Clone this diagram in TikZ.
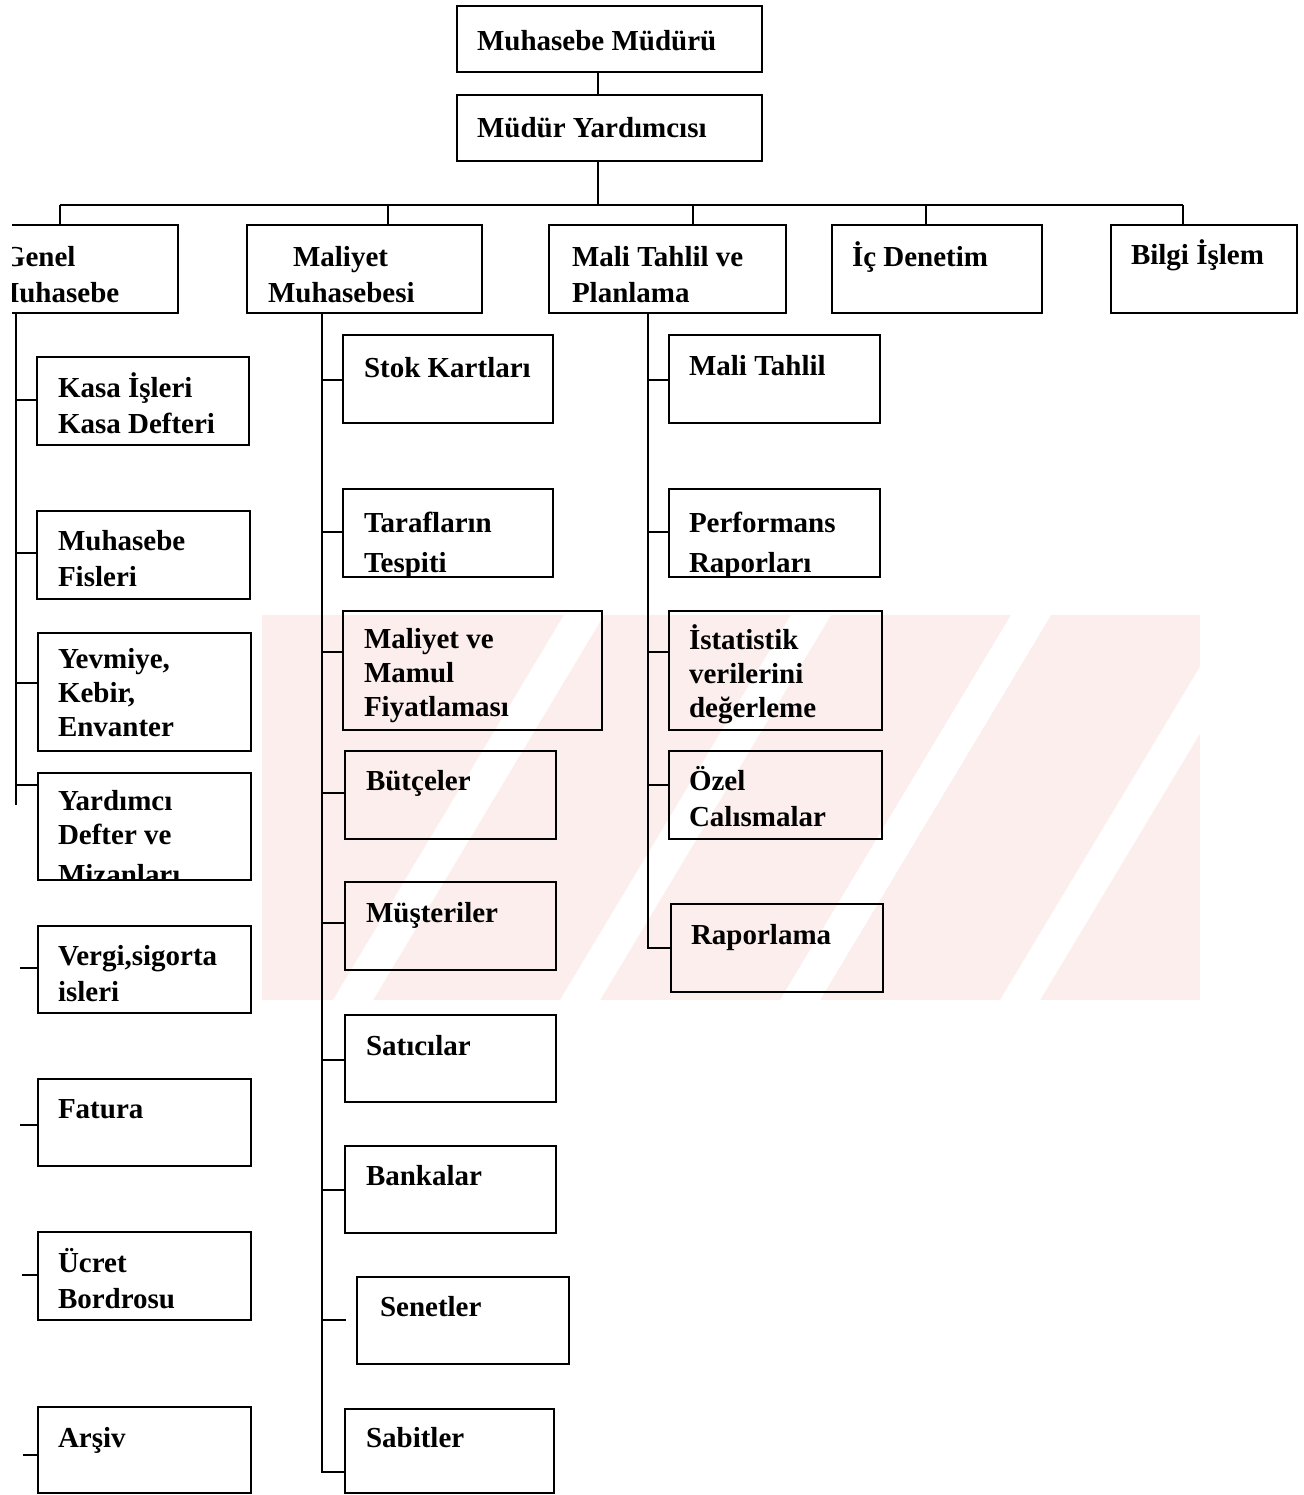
\documentclass[tikz,border=0pt]{standalone}
\usepackage{fontspec}
\setmainfont{Liberation Serif}
\usetikzlibrary{fit}
\definecolor{wmpink}{RGB}{253,238,238}
\tikzset{
  bx/.style={draw, line width=1.2pt, inner sep=0pt},
  tx/.style={inner sep=0pt, outer sep=0pt, anchor=north west, align=left},
  ln/.style={line width=1.2pt},
  wm/.style={fill=wmpink, draw=none},
  wmgap/.style={fill=white, draw=none},
}
\newcommand{\ob}[9][18]{%
  \node[bx, fit={(#3,#4) (#5,#6)}] (#2) {};
  \begin{scope}
    \clip (#3,#4) rectangle (#5,#6);
    \node[tx, font={\bfseries\fontsize{14.5}{#1}\selectfont}] (#2t) at (#7,{#8-1.4*#1}) {\strut #9};
  \end{scope}
}
\newcommand{\stb}[3]{%
  \coordinate (s) at (#1,#2);
  \draw[ln] (s) -- (s -| #3.west);
}
\begin{document}
\begin{tikzpicture}[x=0.5pt,y=-0.5pt]
\useasboundingbox (0,0) rectangle (1303,1495);
\clip (12,0) rectangle (1303,1495);
% faint watermark behind the chart
\fill[wm] (262,615) rectangle (1200,1000);
\foreach \xb in {333,560,780,1000}
  \fill[wmgap] (\xb,1000) -- ++(40,0) -- ++(231,-385) -- ++(-40,0) -- cycle;
\fill[white] (1200,615) rectangle (1303,1000);
% top
\ob{mm}{457}{6}{762}{72}{477}{50}{Muhasebe Müdürü}
\ob{my}{457}{95}{762}{161}{477}{137}{Müdür Yardımcısı}
% level 2
\ob{genel}{-20}{225}{178}{313}{-8}{266}{\hspace*{5.5pt}Genel\\Muhasebe}
\ob{maliyet}{247}{225}{482}{313}{268}{266}{\hspace*{12.5pt}Maliyet\\Muhasebesi}
\ob{mali}{549}{225}{786}{313}{572}{266}{Mali Tahlil ve\\Planlama}
\ob{ic}{832}{225}{1042}{313}{852}{266}{İç Denetim}
\ob{bilgi}{1111}{225}{1297}{313}{1131}{264}{Bilgi İşlem}
% Genel Muhasebe children
\ob{kasa}{37}{357}{249}{445}{58}{397}{Kasa İşleri\\Kasa Defteri}
\ob{fis}{37}{511}{250}{599}{58}{550}{Muhasebe\\Fisleri}
\ob[17]{yev}{38}{633}{251}{751}{58}{668}{Yevmiye,\\Kebir,\\Envanter}
\ob[17]{yard}{38}{773}{251}{880}{58}{810}{Yardımcı\\Defter ve\\[3pt]Mizanları}
\ob{verg}{38}{926}{251}{1013}{58}{965}{Vergi,sigorta\\isleri}
\ob{fat}{38}{1079}{251}{1166}{58}{1118}{Fatura}
\ob{ucr}{38}{1232}{251}{1320}{58}{1272}{Ücret\\Bordrosu}
\ob{ars}{38}{1407}{251}{1493}{58}{1447}{Arşiv}
% Maliyet children
\ob{stok}{343}{335}{553}{423}{364}{377}{Stok Kartları}
\ob{tar}{343}{489}{553}{577}{364}{532}{Tarafların\\[2pt]Tespiti}
\ob[17]{mam}{343}{611}{602}{730}{364}{648}{Maliyet ve\\Mamul\\Fiyatlaması}
\ob{but}{345}{751}{556}{839}{366}{790}{Bütçeler}
\ob{mus}{345}{882}{556}{970}{366}{922}{Müşteriler}
\ob{sat}{345}{1015}{556}{1102}{366}{1055}{Satıcılar}
\ob{ban}{345}{1146}{556}{1233}{366}{1185}{Bankalar}
\ob{sen}{357}{1277}{569}{1364}{380}{1316}{Senetler}
\ob{sab}{345}{1409}{554}{1493}{366}{1447}{Sabitler}
% Mali Tahlil children
\ob{mt}{669}{335}{880}{423}{689}{375}{Mali Tahlil}
\ob{perf}{669}{489}{880}{577}{689}{532}{Performans\\[2pt]Raporları}
\ob[17]{ist}{669}{611}{882}{730}{689}{648}{İstatistik\\verilerini\\değerleme}
\ob{ozel}{669}{751}{882}{839}{689}{790}{Özel\\Calısmalar}
\ob{rap}{671}{904}{883}{992}{691}{944}{Raporlama}
% top connectors
\coordinate (c1) at (598,0);
\draw[ln] (c1 |- mm.south) -- (c1 |- my.north);
\coordinate (bar) at (598,205);
\draw[ln] (c1 |- my.south) -- (bar);
\coordinate (d1) at (60,205);
\coordinate (d2) at (388,205);
\coordinate (d3) at (693,205);
\coordinate (d4) at (926,205);
\coordinate (d5) at (1183,205);
\draw[ln] (d1) -- (d5);
\draw[ln] (d1) -- (d1 |- genel.north);
\draw[ln] (d2) -- (d2 |- maliyet.north);
\draw[ln] (d3) -- (d3 |- mali.north);
\draw[ln] (d4) -- (d4 |- ic.north);
\draw[ln] (d5) -- (d5 |- bilgi.north);
% Genel column
\coordinate (gv) at (16,805);
\draw[ln] (gv |- genel.south) -- (gv);
\stb{16}{400}{kasa}
\stb{16}{553}{fis}
\stb{16}{683}{yev}
\stb{17}{785}{yard}
\stb{20}{968}{verg}
\stb{20}{1125}{fat}
\stb{22}{1275}{ucr}
\stb{23}{1455}{ars}
% Maliyet column
\coordinate (mv) at (322,1472);
\draw[ln] (mv |- maliyet.south) -- (mv) -- (mv -| sab.west);
\stb{322}{380}{stok}
\stb{322}{532}{tar}
\stb{322}{652}{mam}
\stb{322}{793}{but}
\stb{322}{923}{mus}
\stb{322}{1060}{sat}
\stb{322}{1190}{ban}
\coordinate (sn) at (322,1320);
\draw[ln] (sn) -- ([xshift=-5pt]sn -| sen.west);
% Mali Tahlil column
\coordinate (tv) at (648,948);
\draw[ln] (tv |- mali.south) -- (tv) -- (tv -| rap.west);
\stb{648}{380}{mt}
\stb{648}{532}{perf}
\stb{648}{652}{ist}
\stb{648}{785}{ozel}
\end{tikzpicture}
\end{document}
